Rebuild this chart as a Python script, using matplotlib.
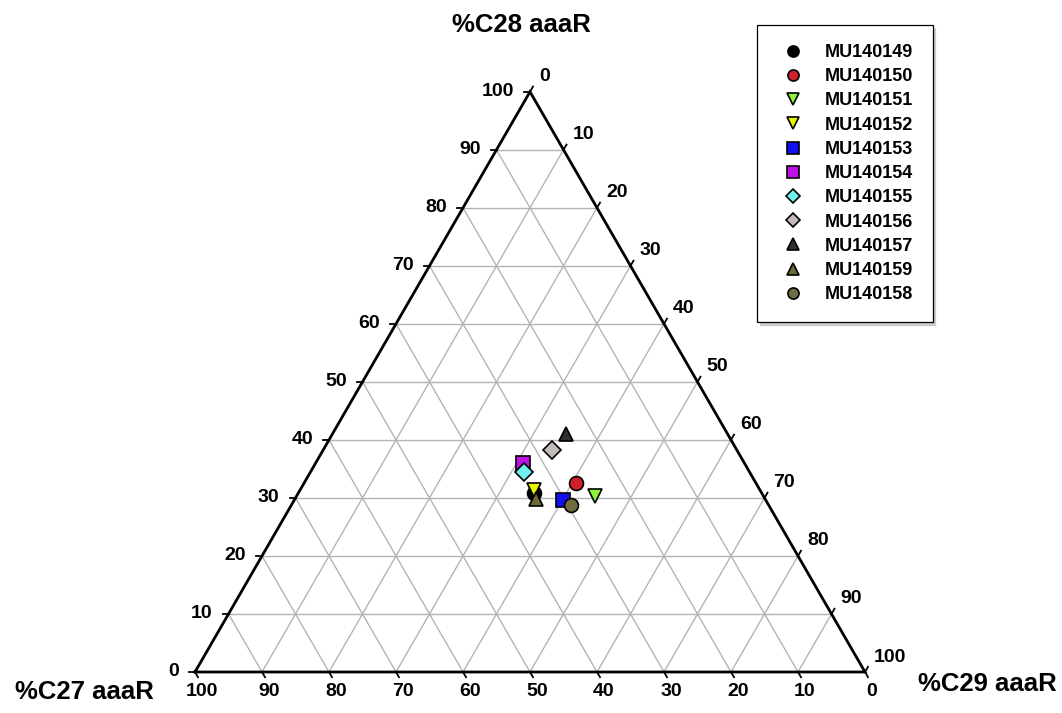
import numpy as np
import matplotlib
matplotlib.use("Agg")
import matplotlib.pyplot as plt
from matplotlib.lines import Line2D

plt.rcParams['font.family'] = ['Liberation Sans', 'DejaVu Sans']
plt.rcParams['font.weight'] = 'bold'

# Sample composition (% of C27 / C28 / C29 aaaR steranes)
samples = ["MU140149", "MU140150", "MU140151", "MU140152", "MU140153", "MU140154",
           "MU140155", "MU140156", "MU140157", "MU140159", "MU140158"]
c27 = [34.0, 26.9, 25.1, 33.7, 30.2, 33.0, 33.7, 27.5, 24.1, 34.2, 29.5]
c28 = [30.8, 32.6, 30.4, 31.3, 29.7, 36.0, 34.4, 38.3, 41.1, 29.8, 28.8]
c29 = [35.2, 40.5, 44.5, 35.0, 40.1, 31.0, 31.9, 34.2, 34.8, 36.0, 41.7]

markers = ["o", "o", "v", "v", "s", "s", "D", "D", "^", "^", "o"]
colors = ["#000000", "#d0202c", "#8cf53a", "#e6f500", "#1010f0", "#c010e8",
          "#70f0f0", "#c4baba", "#303030", "#6e6a36", "#6e6c40"]

tick_values = list(range(0, 101, 10))

H = np.sqrt(3) / 2
PX = 1 / 670.0  # one pixel in data units


def tern(a, b, c):
    """(C27, C28, C29) fractions -> cartesian; C27 at left, C28 top, C29 right."""
    a, b, c = np.asarray(a, float), np.asarray(b, float), np.asarray(c, float)
    s = a + b + c
    b, c = b / s, c / s
    return c + b / 2, b * H


fig = plt.figure(figsize=(10.62, 7.13), dpi=100)
ax = fig.add_axes([0, 0, 1, 1])
ax.set_xlim(-195 * PX, 867 * PX)
ax.set_ylim(-41 * PX, 672 * PX)
ax.axis("off")

# grid lines every 10 %
for v in tick_values[1:-1]:
    f = v / 100
    for p, q in [((1 - f, f, 0), (0, f, 1 - f)),      # constant C28
                 ((f, 1 - f, 0), (f, 0, 1 - f)),      # constant C27
                 ((1 - f, 0, f), (0, 1 - f, f))]:     # constant C29
        x0, y0 = tern(*p)
        x1, y1 = tern(*q)
        ax.plot([x0, x1], [y0, y1], color="#b4b4b4", lw=1.0, zorder=1)

# triangle frame
fx, fy = tern([1, 0, 0, 1], [0, 1, 0, 0], [0, 0, 1, 0])
ax.plot(fx, fy, color="black", lw=2.0, zorder=2, solid_joinstyle="miter")

tl = 6 * PX
fs_tick = 14
for v in tick_values:
    f = v / 100
    # left axis: C28
    x, y = tern(1 - f, f, 0)
    ax.plot([x - tl, x], [y, y], color="black", lw=1.3, zorder=2)
    ax.text(x - 16 * PX, y, str(v), ha="right", va="center", fontsize=fs_tick)
    # bottom axis: C27
    x, y = tern(f, 0, 1 - f)
    ax.plot([x, x + 0.5 * tl], [y, y - H * tl], color="black", lw=1.3, zorder=2)
    ax.text(x + 7 * PX, y - 20 * PX, str(v), ha="center", va="center", fontsize=fs_tick)
    # right axis: C29
    x, y = tern(0, 1 - f, f)
    ax.plot([x, x + 0.5 * tl], [y, y + H * tl], color="black", lw=1.3, zorder=2)
    ax.text(x + 9 * PX, y + 15 * PX, str(v), ha="left", va="center", fontsize=fs_tick)

# corner titles
fs_title = 18.5
ax.text(521 * PX - 195 * PX, (672 - 25) * PX, "%C28 aaaR", ha="center", va="center", fontsize=fs_title)
ax.text(84 * PX - 195 * PX, (672 - 692) * PX, "%C27 aaaR", ha="center", va="center", fontsize=fs_title)
ax.text(987 * PX - 195 * PX, (672 - 684) * PX, "%C29 aaaR", ha="center", va="center", fontsize=fs_title)

# samples
px_, py_ = tern(c27, c28, c29)
handles = []
for i, name in enumerate(samples):
    ax.plot(px_[i], py_[i], marker=markers[i], ms=10 if markers[i] != "D" else 9,
            mfc=colors[i], mec="black", mew=1.2, ls="none", zorder=5 + i)
    handles.append(Line2D([], [], marker=markers[i], ms=8 if markers[i] != "D" else 7,
                          mfc=colors[i], mec="black", mew=1.2, ls="none", label=name))

leg = fig.legend(handles=handles, loc="upper left",
                 bbox_to_anchor=(757 / 1062, 1 - 25 / 713), borderaxespad=0,
                 fontsize=13, frameon=True, fancybox=False, edgecolor="black",
                 handlelength=1.9, handletextpad=0.83, borderpad=1.05,
                 labelspacing=0.4,
                 shadow={"ox": 2, "oy": -2, "color": "0.8", "alpha": 1})
leg.get_frame().set_linewidth(0.9)
for t in leg.get_texts():
    t.set_fontweight("bold")

fig.savefig("out.png", dpi=100)
